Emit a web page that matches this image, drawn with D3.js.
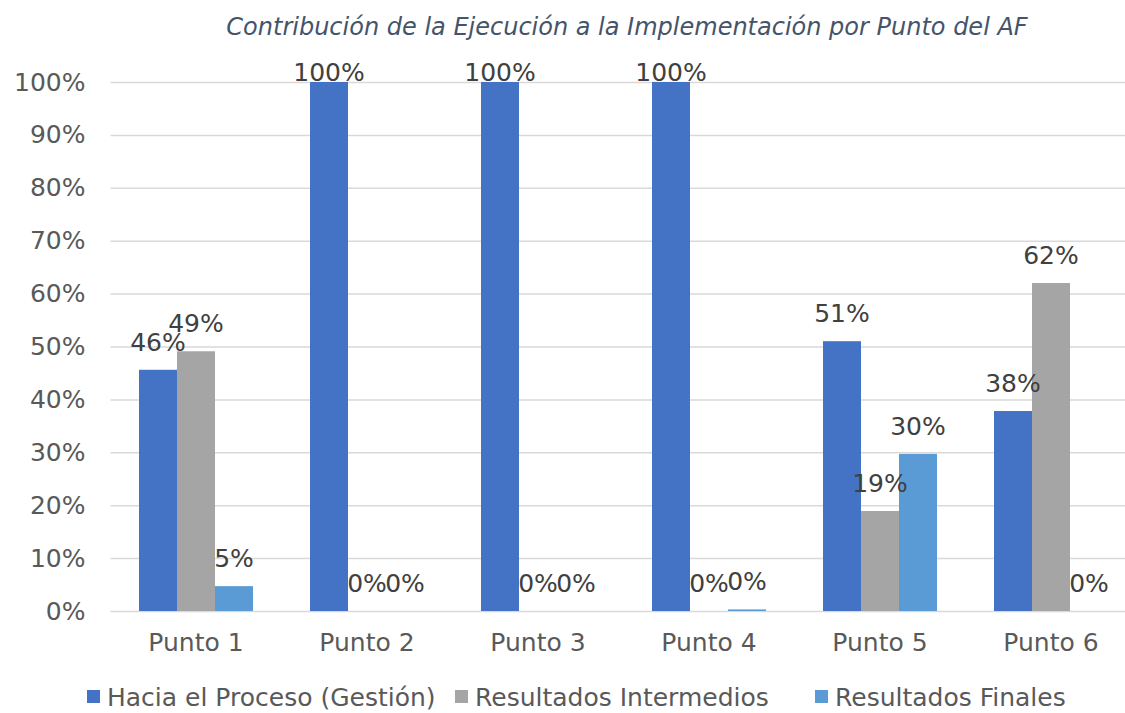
<!DOCTYPE html>
<html>
<head>
<meta charset="utf-8">
<script src="https://cdn.jsdelivr.net/npm/d3@7"></script>
<style>
  body { margin: 0; background: #fff; }
  text { font-family: "DejaVu Sans", Verdana, sans-serif; }
</style>
</head>
<body>
<script>
var categories = [ "Punto 1", "Punto 2", "Punto 3", "Punto 4", "Punto 5", "Punto 6" ];
var seriesNames = [ "Hacia el Proceso (Gestión)", "Resultados Intermedios", "Resultados Finales" ];
var proceso = [ 0.456, 1.0, 1.0, 1.0, 0.51, 0.378 ];
var intermedios = [ 0.491, 0, 0, 0, 0.189, 0.62 ];
var finales = [ 0.047, 0, 0, 0.003, 0.297, 0 ];
var yTicks = [ 0, 0.1, 0.2, 0.3, 0.4, 0.5, 0.6, 0.7, 0.8, 0.9, 1.0 ];
var colors = [ "#4472C4", "#A5A5A5", "#5B9BD5" ];

var values = [ proceso, intermedios, finales ];

var width = 1125, height = 713;

var svg = d3.select( "body" )
            .append( "svg" )
              .attr( "width", width )
              .attr( "height", height );

// scales
var x0 = d3.scaleBand()
           .domain( categories )
           .range( [ 110.5, 1136.5 ] );

var x1 = d3.scaleBand()
           .domain( seriesNames )
           .range( [ 0, x0.bandwidth() ] )
           .paddingOuter( 0.75 );

var y = d3.scaleLinear()
          .domain( [ 0, 1 ] )
          .range( [ 611, 82 ] );

// title
svg.append( "text" )
   .attr( "x", 627 )
   .attr( "y", 35 )
   .attr( "text-anchor", "middle" )
   .attr( "font-style", "italic" )
   .attr( "font-size", 24 )
   .attr( "fill", "#44546A" )
   .text( "Contribución de la Ejecución a la Implementación por Punto del AF" );

// gridlines + y labels
var yAxis = d3.axisLeft( y )
              .tickValues( yTicks )
              .tickFormat( d3.format( ".0%" ) )
              .tickSize( -( 1136.5 - 110.5 ) )
              .tickPadding( 25 );

var gy = svg.append( "g" )
            .attr( "transform", "translate(110.5,0)" )
            .call( yAxis );
gy.select( ".domain" ).remove();
gy.selectAll( ".tick line" )
  .attr( "stroke", "#D9D9D9" )
  .attr( "stroke-width", 1.5 );
gy.selectAll( ".tick text" )
  .attr( "fill", "#595959" )
  .attr( "font-size", 25 )
  .attr( "font-family", "DejaVu Sans, sans-serif" );

// x labels
var xAxis = d3.axisBottom( x0 ).tickSize( 0 ).tickPadding( 22 );
var gx = svg.append( "g" )
            .attr( "transform", "translate(0,611)" )
            .call( xAxis );
gx.select( ".domain" ).remove();
gx.selectAll( ".tick text" )
  .attr( "fill", "#595959" )
  .attr( "font-size", 25 )
  .attr( "font-family", "DejaVu Sans, sans-serif" );

// bars
var rows = [];
categories.forEach( function( c, i ){
  seriesNames.forEach( function( s, j ){
    rows.push( { cat: c, ser: s, j: j, v: values[ j ][ i ] } );
  });
});

var groups = svg.selectAll( "g.grp" )
                .data( categories )
                .enter()
                .append( "g" )
                  .attr( "class", "grp" )
                  .attr( "transform", function( d ){ return "translate(" + x0( d ) + ",0)"; } );

groups.selectAll( "rect" )
      .data( function( d ){ return rows.filter( function( r ){ return r.cat === d; } ); } )
      .enter()
      .append( "rect" )
        .attr( "x", function( d ){ return x1( d.ser ); } )
        .attr( "width", x1.bandwidth() )
        .attr( "y", function( d ){ return y( d.v ); } )
        .attr( "height", function( d ){ return y( 0 ) - y( d.v ); } )
        .attr( "fill", function( d ){ return colors[ d.j ]; } );

// data labels
groups.selectAll( "text.lbl" )
      .data( function( d ){ return rows.filter( function( r ){ return r.cat === d; } ); } )
      .enter()
      .append( "text" )
        .attr( "class", "lbl" )
        .attr( "x", function( d ){ return x1( d.ser ) + x1.bandwidth() / 2; } )
        .attr( "y", function( d ){ return Math.max( y( d.v ) - 28, 72 ); } )
        .attr( "dy", "0.35em" )
        .attr( "text-anchor", "middle" )
        .attr( "font-size", 25 )
        .attr( "fill", "#404040" )
        .text( function( d ){ return d3.format( ".0%" )( d.v ); } );

// legend
var legendX = [ 87, 455, 815 ];
var legend = svg.selectAll( "g.leg" )
                .data( seriesNames )
                .enter()
                .append( "g" )
                  .attr( "class", "leg" )
                  .attr( "transform", function( d, i ){ return "translate(" + legendX[ i ] + ",697)"; } );
legend.append( "rect" )
      .attr( "x", 0 )
      .attr( "y", -7 )
      .attr( "width", 13 )
      .attr( "height", 13 )
      .attr( "fill", function( d, i ){ return colors[ i ]; } );
legend.append( "text" )
      .attr( "x", 20 )
      .attr( "dy", "0.35em" )
      .attr( "font-size", 25 )
      .attr( "fill", "#595959" )
      .text( function( d ){ return d; } );
</script>
</body>
</html>
